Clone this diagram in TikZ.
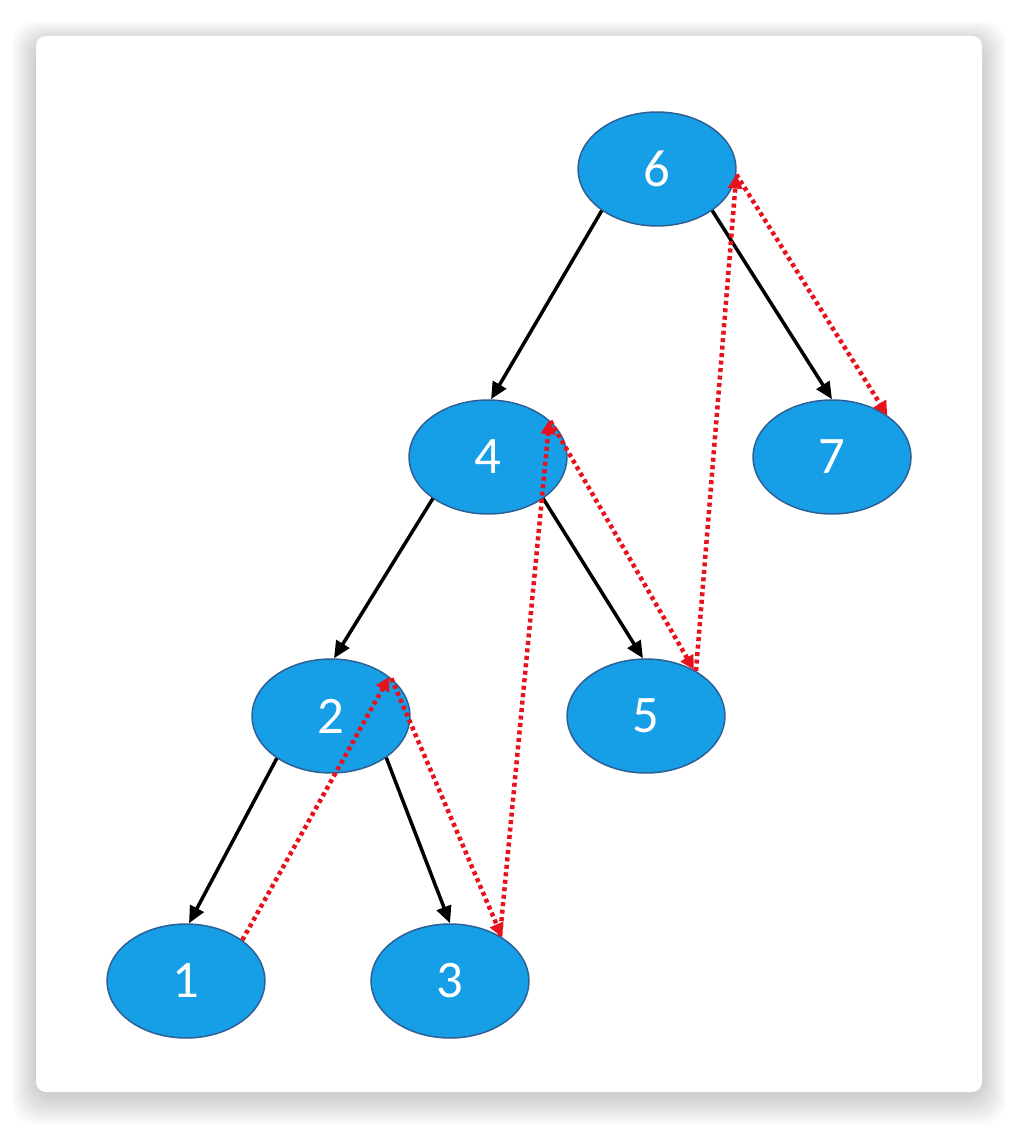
\documentclass[tikz,border=0pt]{standalone}
\usepackage{fontspec}
\setmainfont{Carlito}
\usetikzlibrary{arrows.meta,shapes.geometric}
\definecolor{nodefill}{RGB}{22,158,230}
\definecolor{nodeedge}{RGB}{46,96,150}
\definecolor{threadred}{RGB}{232,18,28}
\begin{document}
\begin{tikzpicture}[x=0.02cm,y=-0.02cm,
  tnode/.style={ellipse, draw=nodeedge, line width=0.03cm, fill=nodefill,
    minimum width=3.16cm, minimum height=2.28cm, inner sep=0pt,
    text=white, font=\fontsize{30}{32}\selectfont},
  treeedge/.style={line width=0.07cm, -{Triangle[length=0.34cm,width=0.3cm]}},
  threadline/.style={threadred, line width=0.09cm, dash pattern=on 0.08cm off 0.07cm,
    -{Triangle[length=0.28cm,width=0.28cm]}}]
  \useasboundingbox (0,0) rectangle (1018,1128);
  \fill[white] (0,0) rectangle (1018,1128);
  % card shadow
  \foreach \i in {1,...,16}
    \fill[black, opacity=0.013, rounded corners=0.45cm]
      ({36-1.5*\i},{42-1.3*\i}) rectangle ({982+1.5*\i},{1096+1.8*\i});
  \fill[white, rounded corners=0.2cm] (36,36) rectangle (982,1092);

  % nodes
  \node[tnode] (n6) at (657,169) {6};
  \node[tnode] (n4) at (488,457) {4};
  \node[tnode] (n7) at (832,457) {7};
  \node[tnode] (n2) at (331,716) {2};
  \node[tnode] (n5) at (646,716) {5};
  \node[tnode] (n1) at (186,981) {1};
  \node[tnode] (n3) at (450,981) {3};

  % tree edges
  \draw[treeedge] (n6.217) -- (n4.87);
  \draw[treeedge] (n6.323) -- (n7.90);
  \draw[treeedge] (n4.217) -- (n2.87);
  \draw[treeedge] (n4.323) -- (n5.93);
  \draw[treeedge] (n2.218) -- (n1.87);
  \draw[treeedge] (n2.323) -- (n3.90);

  % inorder thread path
  \draw[threadline] (n1.36) -- (n2.34);
  \draw[threadline] (n2.32) -- (n3.40);
  \draw[threadline] (n3.42) -- (n4.31);
  \draw[threadline] (n4.30) -- (n5.44);
  \draw[threadline] (n5.42) -- (n6.-4);
  \draw[threadline] (n6.-4) -- (n7.37);
\end{tikzpicture}
\end{document}
